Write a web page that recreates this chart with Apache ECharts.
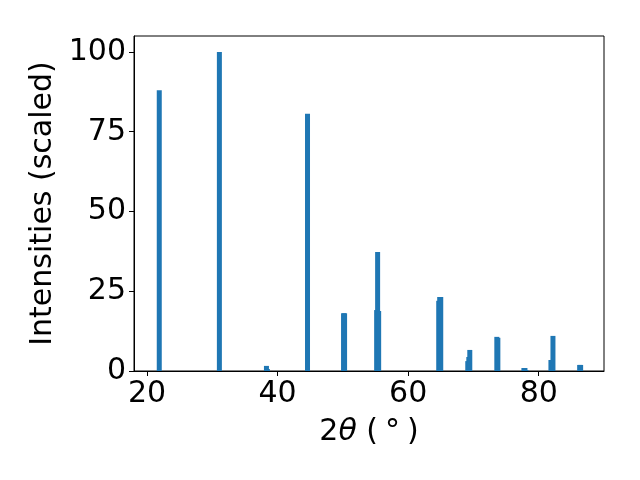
<!DOCTYPE html>
<html>
<head>
<meta charset="utf-8">
<script src="https://cdn.jsdelivr.net/npm/echarts@6/dist/echarts.min.js"></script>
<style>
html,body{margin:0;padding:0;background:#fff;}
#c{width:640px;height:480px;}
</style>
</head>
<body>
<div id="c"></div>
<script>
// 2-theta positions (degrees) and scaled intensities
const twoTheta = [21.87, 31.08, 38.29, 38.44, 44.58, 50.10, 50.26, 55.17, 55.32, 55.48,
                  64.68, 64.83, 64.99, 69.13, 69.29, 69.44, 73.58, 73.74,
                  77.73, 77.89, 78.04, 81.87, 82.18, 86.27, 86.42];
const intensity = [88.0, 100.0, 1.6, 0.6, 80.6, 18.1, 18.1, 19.1, 37.3, 18.8,
                   22.0, 23.2, 23.2, 3.1, 4.4, 6.6, 10.7, 10.4,
                   0.94, 0.94, 0.3, 3.45, 11.0, 1.9, 1.9];
const xTicks = [20, 40, 60, 80];
const yTicks = [0, 25, 50, 75, 100];

const data = twoTheta.map((x, i) => [x, intensity[i]]);
const font = 'DejaVu Sans';
const fs = 30;

const chart = echarts.init(document.getElementById('c'), null, {renderer: 'canvas'});
chart.setOption({
  animation: false,
  backgroundColor: '#fff',
  grid: {
    left: 134, right: 36, top: 36, bottom: 109,
    show: true, borderColor: '#000', borderWidth: 1, backgroundColor: 'transparent',
    containLabel: false, outerBoundsMode: 'none'
  },
  xAxis: {
    type: 'value', min: 18, max: 90,
    name: '{n|2}{i|θ}{n| (}{t| }{s|°}{t| }{n|)}',
    nameLocation: 'middle', nameGap: 46,
    nameTextStyle: {
      rich: {
        n: {fontFamily: font, fontSize: fs, color: '#000'},
        i: {fontFamily: font, fontSize: fs, color: '#000', fontStyle: 'italic'},
        s: {fontFamily: font, fontSize: fs, color: '#000'},
        t: {fontFamily: font, fontSize: 22, color: '#000'}
      }
    },
    axisLine: {show: true, onZero: false, lineStyle: {color: '#000', width: 1}},
    axisTick: {show: true, inside: false, length: 5, lineStyle: {color: '#000', width: 1}, customValues: xTicks},
    axisLabel: {fontFamily: font, fontSize: fs, color: '#000', margin: 8, customValues: xTicks},
    splitLine: {show: false}
  },
  yAxis: {
    type: 'value', min: 0, max: 105,
    name: 'Intensities (scaled)',
    nameLocation: 'middle', nameGap: 72,
    nameTextStyle: {fontFamily: font, fontSize: fs, color: '#000'},
    axisLine: {show: true, onZero: false, lineStyle: {color: '#000', width: 1}},
    axisTick: {show: true, inside: false, length: 5, lineStyle: {color: '#000', width: 1}, customValues: yTicks},
    axisLabel: {fontFamily: font, fontSize: fs, color: '#000', margin: 8, customValues: yTicks},
    splitLine: {show: false}
  },
  series: [{
    type: 'bar',
    data: data,
    barWidth: 5,
    itemStyle: {color: '#1f77b4'},
    emphasis: {disabled: true}
  }]
});
</script>
</body>
</html>
